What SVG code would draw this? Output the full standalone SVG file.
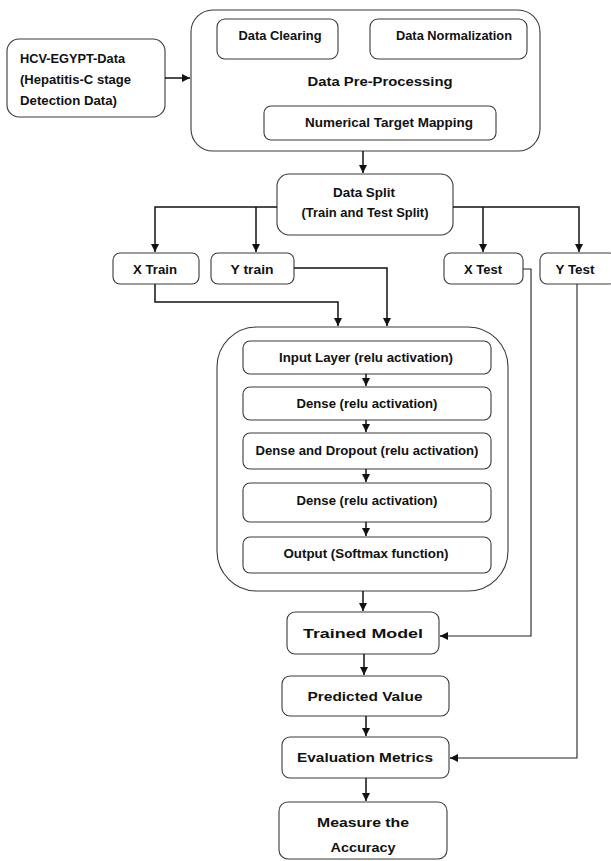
<svg xmlns="http://www.w3.org/2000/svg" width="611" height="861" viewBox="0 0 611 861">
<style>
.box{fill:#fff;stroke:#3a3a3a;stroke-width:1.1}
.t{font-family:"Liberation Sans",Arial,sans-serif;font-weight:bold;fill:#111;font-size:13px}
.c{text-anchor:middle}
.conn{fill:none;stroke:#111;stroke-width:1.5}
.thin{fill:none;stroke:#222;stroke-width:1.1}
</style>
<defs>
<marker id="ah" markerUnits="userSpaceOnUse" markerWidth="9" markerHeight="9" refX="8" refY="4" orient="auto">
<path d="M0,0 L8,4 L0,8 z" fill="#111"/>
</marker>
</defs>
<rect width="611" height="861" fill="#fff"/>

<g id="hcv">
<rect class="box" x="7" y="39" width="158" height="78" rx="12"/>
<text class="t" x="20" y="63" font-size="14" textLength="105" lengthAdjust="spacingAndGlyphs">HCV-EGYPT-Data</text>
<text class="t" x="20" y="84" font-size="14" textLength="111" lengthAdjust="spacingAndGlyphs">(Hepatitis-C stage</text>
<text class="t" x="20" y="105" font-size="14" textLength="97" lengthAdjust="spacingAndGlyphs">Detection Data)</text>
</g>

<g id="preprocessing">
<rect class="box" x="191" y="10" width="349" height="141" rx="22"/>
<text class="t c" x="380" y="86" font-size="15" textLength="145" lengthAdjust="spacingAndGlyphs">Data Pre-Processing</text>
</g>
<g id="clearing">
<rect class="box" x="217" y="19" width="121" height="40" rx="8"/>
<text class="t c" x="280" y="40" textLength="83" lengthAdjust="spacingAndGlyphs">Data Clearing</text>
</g>
<g id="normalization">
<rect class="box" x="370" y="19" width="157" height="40" rx="8"/>
<text class="t c" x="454" y="40" textLength="116" lengthAdjust="spacingAndGlyphs">Data Normalization</text>
</g>
<g id="mapping">
<rect class="box" x="264" y="106" width="232" height="34" rx="7"/>
<text class="t c" x="389" y="127" textLength="168" lengthAdjust="spacingAndGlyphs">Numerical Target Mapping</text>
</g>

<g id="split">
<rect class="box" x="277" y="174" width="176" height="61" rx="12"/>
<text class="t c" x="364" y="197" textLength="62" lengthAdjust="spacingAndGlyphs">Data Split</text>
<text class="t c" x="365" y="217" textLength="127" lengthAdjust="spacingAndGlyphs">(Train and Test Split)</text>
</g>

<g id="xtrain">
<rect class="box" x="113" y="253" width="86" height="31" rx="7"/>
<text class="t c" x="155" y="274" textLength="44" lengthAdjust="spacingAndGlyphs">X Train</text>
</g>
<g id="ytrain">
<rect class="box" x="211" y="253" width="83" height="31" rx="7"/>
<text class="t c" x="252" y="274" textLength="43" lengthAdjust="spacingAndGlyphs">Y train</text>
</g>
<g id="xtest">
<rect class="box" x="444" y="253" width="79" height="31" rx="7"/>
<text class="t c" x="483" y="274" textLength="38" lengthAdjust="spacingAndGlyphs">X Test</text>
</g>
<g id="ytest">
<rect class="box" x="540" y="253" width="76" height="31" rx="7"/>
<text class="t c" x="575" y="274" textLength="39" lengthAdjust="spacingAndGlyphs">Y Test</text>
</g>

<g id="network">
<rect class="box" x="217" y="327" width="291" height="264" rx="40"/>
</g>
<g id="input-layer">
<rect class="box" x="243" y="341" width="248" height="33" rx="7"/>
<text class="t c" x="366" y="362" font-size="14" textLength="174" lengthAdjust="spacingAndGlyphs">Input Layer (relu activation)</text>
</g>
<g id="dense1">
<rect class="box" x="243" y="387" width="248" height="33" rx="7"/>
<text class="t c" x="367" y="408" font-size="14" textLength="141" lengthAdjust="spacingAndGlyphs">Dense (relu activation)</text>
</g>
<g id="dense-dropout">
<rect class="box" x="243" y="433" width="248" height="36" rx="7"/>
<text class="t c" x="367" y="455" font-size="14" textLength="223" lengthAdjust="spacingAndGlyphs">Dense and Dropout (relu activation)</text>
</g>
<g id="dense2">
<rect class="box" x="243" y="483" width="248" height="39" rx="7"/>
<text class="t c" x="367" y="505" font-size="14" textLength="141" lengthAdjust="spacingAndGlyphs">Dense (relu activation)</text>
</g>
<g id="output-layer">
<rect class="box" x="243" y="537" width="248" height="36" rx="7"/>
<text class="t c" x="366" y="558" font-size="14" textLength="165" lengthAdjust="spacingAndGlyphs">Output (Softmax function)</text>
</g>

<g id="trained">
<rect class="box" x="287" y="612" width="152" height="42" rx="8"/>
<text class="t c" x="363" y="638" font-size="18" textLength="120" lengthAdjust="spacingAndGlyphs">Trained Model</text>
</g>
<g id="predicted">
<rect class="box" x="282" y="676" width="167" height="40" rx="8"/>
<text class="t c" x="365" y="701" font-size="16" textLength="115" lengthAdjust="spacingAndGlyphs">Predicted Value</text>
</g>
<g id="evaluation">
<rect class="box" x="282" y="737" width="167" height="41" rx="8"/>
<text class="t c" x="365" y="762" font-size="16" textLength="136" lengthAdjust="spacingAndGlyphs">Evaluation Metrics</text>
</g>
<g id="accuracy">
<rect class="box" x="279" y="802" width="168" height="57" rx="9"/>
<text class="t c" x="363" y="827" font-size="16" textLength="92" lengthAdjust="spacingAndGlyphs">Measure the</text>
<text class="t c" x="363" y="852" font-size="16" textLength="65" lengthAdjust="spacingAndGlyphs">Accuracy</text>
</g>

<g id="connectors">
<path class="conn" d="M165,78 H190" marker-end="url(#ah)"/>
<path class="conn" d="M363,151 V173" marker-end="url(#ah)"/>
<path class="conn" d="M277,207 H155 V252" marker-end="url(#ah)"/>
<path class="conn" d="M256,207 V252" marker-end="url(#ah)"/>
<path class="conn" d="M453,207 H579 V252" marker-end="url(#ah)"/>
<path class="conn" d="M483,207 V252" marker-end="url(#ah)"/>
<path class="conn" d="M155,284 V302 H338 V326" marker-end="url(#ah)"/>
<path class="conn" d="M294,268 H387 V326" marker-end="url(#ah)"/>
<path class="thin" d="M523,269 H531 V636 H446"/>
<path class="conn" d="M447,636 H440" marker-end="url(#ah)"/>
<path class="thin" d="M577,284 V758 H456"/>
<path class="conn" d="M457,758 H450" marker-end="url(#ah)"/>
<path class="conn" d="M366,374 V386" marker-end="url(#ah)"/>
<path class="conn" d="M366,420 V432" marker-end="url(#ah)"/>
<path class="conn" d="M366,469 V482" marker-end="url(#ah)"/>
<path class="conn" d="M366,522 V536" marker-end="url(#ah)"/>
<path class="conn" d="M363,591 V611" marker-end="url(#ah)"/>
<path class="conn" d="M364,654 V675" marker-end="url(#ah)"/>
<path class="conn" d="M366,716 V736" marker-end="url(#ah)"/>
<path class="conn" d="M366,778 V801" marker-end="url(#ah)"/>
</g>
</svg>
